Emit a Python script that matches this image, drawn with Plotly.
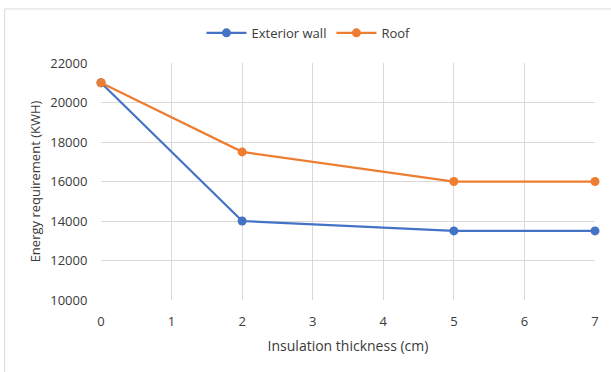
import plotly.graph_objects as go

thickness = [0, 2, 5, 7]
exterior_wall = [21000, 14000, 13500, 13500]
roof = [21000, 17500, 16000, 16000]
x_ticks = [0, 1, 2, 3, 4, 5, 6, 7]
y_ticks = [10000, 12000, 14000, 16000, 18000, 20000, 22000]

FONT = "Open Sans"
TXT = "#3a3a3a"
fig = go.Figure()
fig.add_trace(go.Scatter(x=thickness, y=exterior_wall, name="Exterior wall", mode="lines+markers",
                         line=dict(color="#4472C4", width=2.25), marker=dict(size=9, color="#4472C4"),
                         cliponaxis=False))
fig.add_trace(go.Scatter(x=thickness, y=roof, name="Roof", mode="lines+markers",
                         line=dict(color="#ED7D31", width=2.25), marker=dict(size=9, color="#ED7D31"),
                         cliponaxis=False))

fig.update_layout(
    width=611, height=372,
    margin=dict(l=101, r=13, t=63, b=72),
    plot_bgcolor="white", paper_bgcolor="white",
    font=dict(family=FONT, color=TXT, size=12),
    legend=dict(orientation="h", x=0.42, xanchor="center", y=1.127, yanchor="middle",
                font=dict(size=13, color=TXT), itemwidth=40, traceorder="normal"),
    xaxis=dict(range=[0, 7], tickvals=x_ticks, showgrid=True, gridcolor="#D9D9D9", gridwidth=1,
               zeroline=False, showline=False, ticks="outside", ticklen=9, tickcolor="rgba(0,0,0,0)",
               tickfont=dict(size=13, color=TXT),
               title=dict(text="Insulation thickness (cm)", font=dict(size=14, color=TXT), standoff=12)),
    yaxis=dict(range=[10000, 22000], tickvals=y_ticks, ticktext=[str(v) for v in y_ticks],
               showgrid=True, gridcolor="#D9D9D9", gridwidth=1,
               zeroline=False, showline=False, ticks="outside", ticklen=10, tickcolor="rgba(0,0,0,0)",
               tickfont=dict(size=13, color=TXT),
               title=dict(text="Energy requirement (KWH)", font=dict(size=13, color=TXT), standoff=6)),
    shapes=[dict(type="rect", xref="paper", yref="paper", x0=-0.195, x1=1.2, y0=-0.5, y1=1.228,
                 line=dict(color="#D9D9D9", width=1), fillcolor="rgba(0,0,0,0)", layer="below")],
)
fig.write_html("out.html")
